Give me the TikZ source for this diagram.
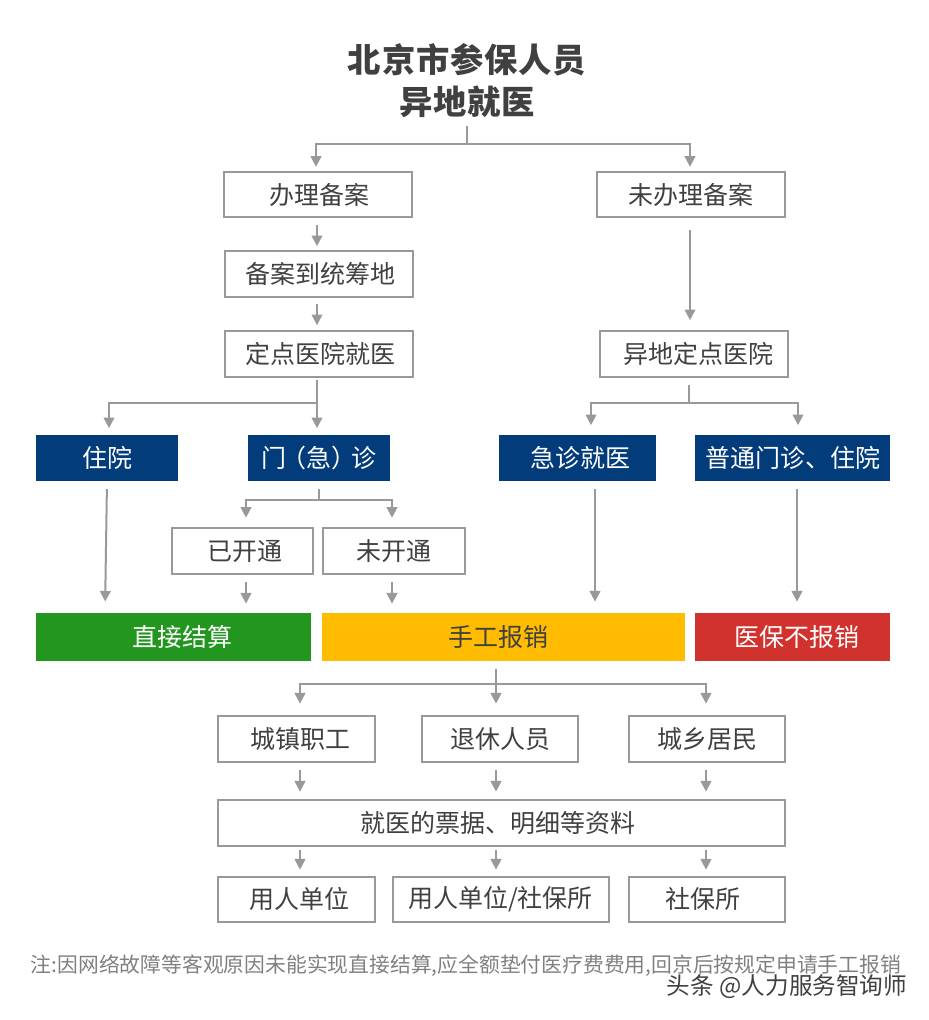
\documentclass[tikz,border=0pt]{standalone}
\usepackage{fontspec}
\setmainfont{Noto Sans CJK SC}
\usetikzlibrary{positioning, arrows.meta}
\definecolor{linegray}{HTML}{999999}
\definecolor{textgray}{HTML}{404040}
\definecolor{notegray}{HTML}{808080}
\definecolor{navyblue}{HTML}{033C7A}
\definecolor{passgreen}{HTML}{23961F}
\definecolor{handamber}{HTML}{FFBC00}
\definecolor{denyred}{HTML}{D2322D}
\tikzset{
	basic node/.style={outer sep=0pt, inner sep=0pt, font=\fontsize{18.75pt}{22pt}\selectfont},
	plain node/.style={basic node, draw=linegray, line width=1.5pt, text=textgray},
	navy node/.style={basic node, fill=navyblue, text=white, minimum height=34.5pt},
	result node/.style={basic node, minimum height=36pt},
	left pad/.style={execute at begin node=\hspace*{#1}},
	right pad/.style={execute at end node=\hspace*{#1}},
	stem/.style={draw=linegray, line width=1.5pt},
	link/.style={stem, -{Triangle[width=8pt, length=8pt]}},
}
\begin{document}
\begin{tikzpicture}[x=0.75pt, y=-0.75pt]
	\useasboundingbox (0,0) rectangle (928,1020);
	% Grids
	\node[basic node, align=center, text=textgray, font=\fontsize{25pt}{31.5pt}\selectfont\bfseries\addfontfeature{LetterSpace=2.5}] (title) at (467,81) {北京市参保人员\\异地就医};
	\node[plain node, left pad=1.5pt, minimum width=141pt, minimum height=34pt] (banli) at (318,194.5) {办理备案};
	\node[plain node, minimum width=141pt, minimum height=34pt] [right = 138.75pt of banli] (weiban) {未办理备案};
	\node[plain node, left pad=2pt, minimum width=141pt, minimum height=34.5pt] [below = 25.5pt of banli, xshift=0.75pt] (daotong) {备案到统筹地};
	\node[plain node, left pad=2pt, minimum width=141pt, minimum height=34.5pt] [below = 25.5pt of daotong] (dingdian) {定点医院就医};
	\node[plain node, left pad=6.75pt, minimum width=141pt, minimum height=34.5pt] [right = 140.25pt of dingdian] (yidi) {异地定点医院};
	\node[navy node, minimum width=106.5pt] [below = 43.5pt of dingdian] (menzhen) {门\hspace{-3.75pt}（急）\hspace{-3.75pt}诊};
	\node[navy node, minimum width=106.5pt] [left = 52.5pt of menzhen] (zhuyuan) {住院};
	\node[navy node, left pad=4.5pt, minimum width=117.75pt] [right = 81.75pt of menzhen] (jizhen) {急诊就医};
	\node[navy node, minimum width=146.25pt] [right = 29.25pt of jizhen] (putong) {普通门诊、住院};
	\node[plain node, left pad=4.5pt, minimum width=105.75pt, minimum height=35pt] [below = 34.9pt of menzhen, xshift=-57.4pt] (yikai) {已开通};
	\node[plain node, minimum width=106.5pt, minimum height=35pt] [right = 7.5pt of yikai] (weikai) {未开通};
	\node[result node, left pad=13.5pt, fill=passgreen, text=white, minimum width=206.25pt] [below = 98.6pt of zhuyuan.south west, anchor=north west] (zhijie) {直接结算};
	\node[result node, right pad=7.5pt, fill=handamber, text=textgray, minimum width=272.25pt] [right = 8.25pt of zhijie] (shougong) {手工报销};
	\node[result node, left pad=6.75pt, fill=denyred, text=white, minimum width=146.25pt] [right = 7.5pt of shougong] (buxiao) {医保不报销};
	\node[plain node, minimum width=117pt, minimum height=34.5pt] [below = 41.25pt of shougong, xshift=-2.6pt] (tuixiu) {退休人员};
	\node[plain node, left pad=5.25pt, minimum width=117.75pt, minimum height=34.5pt] [left = 35.25pt of tuixiu] (chengzhen) {城镇职工};
	\node[plain node, minimum width=117pt, minimum height=34.5pt] [right = 38.25pt of tuixiu] (jumin) {城乡居民};
	\node[plain node, right pad=6pt, minimum width=425.25pt, minimum height=34.5pt] [below = 28.5pt of tuixiu, xshift=1.1pt] (piaoju) {就医的票据、明细等资料};
	\node[plain node, minimum width=162pt, minimum height=33.75pt] [below = 23.25pt of piaoju, xshift=-0.75pt] (danshe) {用人单位/社保所};
	\node[plain node, left pad=4.5pt, minimum width=117.75pt, minimum height=33.75pt] [left = 13.5pt of danshe] (danwei) {用人单位};
	\node[plain node, right pad=6pt, minimum width=117pt, minimum height=33.75pt] [right = 15pt of danshe] (shebao) {社保所};
	\node[basic node, text=notegray, font=\fontsize{15.6pt}{18pt}\selectfont] (note) at (466,966) {注:因网络故障等客观原因未能实现直接结算,应全额垫付医疗费费用,回京后按规定申请手工报销};
	\node[basic node, anchor=east, text=textgray, font=\fontsize{17.7pt}{20pt}\selectfont] (mark) at (907,987) {头条 @人力服务智询师};
	% Columns and splits
	\coordinate (colA) at (317,0);
	\coordinate (colB) at (690,0);
	\coordinate (colC) at (689,0);
	\coordinate (colD) at (319,0);
	\coordinate (colE) at (246,0);
	\coordinate (colF) at (392,0);
	\coordinate (colG) at (107,0);
	\coordinate (colH) at (105,0);
	\coordinate (colI) at (595,0);
	\coordinate (colJ) at (797,0);
	\coordinate (colK) at (300,0);
	\coordinate (colL) at (496,0);
	\coordinate (colM) at (706,0);
	\coordinate (colN) at (109,0);
	\coordinate (colO) at (591,0);
	\coordinate (colP) at (798,0);
	\coordinate (colQ) at (316,0);
	\coordinate (splitA) at (467,144);
	\coordinate (splitB) at (317,403);
	\coordinate (splitC) at (689,403);
	\coordinate (splitD) at (319,500);
	\coordinate (splitE) at (496,684);
	% Paths
	\draw[stem, shorten <=6pt] (title.south) -- (splitA);
	\draw[link, shorten >=3.75pt] (splitA) -| (banli.north -| colQ);
	\draw[link, shorten >=3.75pt] (splitA) -| (weiban.north -| colB);
	\draw[link, shorten <=6pt, shorten >=3.75pt] (banli.south -| colA) -- (daotong.north -| colA);
	\draw[link, shorten <=5.25pt, shorten >=4.5pt] (daotong.south -| colA) -- (dingdian.north -| colA);
	\draw[link, shorten <=9.75pt, shorten >=8.25pt] (weiban.south -| colB) -- (yidi.north -| colB);
	\draw[stem, shorten <=2.25pt] (dingdian.south -| colA) -- (splitB);
	\draw[link, shorten >=5.25pt] (splitB) -- (menzhen.north -| colA);
	\draw[link, shorten >=5.25pt] (splitB) -| (zhuyuan.north -| colN);
	\draw[stem, shorten <=6pt] (yidi.south -| colC) -- (splitC);
	\draw[link, shorten >=7.5pt] (splitC) -| (jizhen.north -| colO);
	\draw[link, shorten >=7.5pt] (splitC) -| (putong.north -| colP);
	\draw[stem, shorten <=6pt] (menzhen.south -| colD) -- (splitD);
	\draw[link, shorten >=7.5pt] (splitD) -| (yikai.north -| colE);
	\draw[link, shorten >=7.5pt] (splitD) -| (weikai.north -| colF);
	\draw[link, shorten <=6pt, shorten >=8.25pt] (zhuyuan.south -| colG) -- (zhijie.north -| colH);
	\draw[link, shorten <=6pt, shorten >=6.75pt] (yikai.south -| colE) -- (zhijie.north -| colE);
	\draw[link, shorten <=6pt, shorten >=6.75pt] (weikai.south -| colF) -- (shougong.north -| colF);
	\draw[link, shorten <=6pt, shorten >=8.25pt] (jizhen.south -| colI) -- (shougong.north -| colI);
	\draw[link, shorten <=6pt, shorten >=8.25pt] (putong.south -| colJ) -- (buxiao.north -| colJ);
	\draw[stem, shorten <=6pt] (shougong.south -| colL) -- (splitE);
	\draw[link, shorten >=9pt] (splitE) -| (chengzhen.north -| colK);
	\draw[link, shorten >=9pt] (splitE) -- (tuixiu.north -| colL);
	\draw[link, shorten >=9pt] (splitE) -| (jumin.north -| colM);
	\draw[link, shorten <=6pt, shorten >=6pt] (chengzhen.south -| colK) -- (piaoju.north -| colK);
	\draw[link, shorten <=6pt, shorten >=6pt] (tuixiu.south -| colL) -- (piaoju.north -| colL);
	\draw[link, shorten <=6pt, shorten >=6pt] (jumin.south -| colM) -- (piaoju.north -| colM);
	\draw[link, shorten <=3pt, shorten >=5.25pt] (piaoju.south -| colK) -- (danwei.north -| colK);
	\draw[link, shorten <=3pt, shorten >=5.25pt] (piaoju.south -| colL) -- (danshe.north -| colL);
	\draw[link, shorten <=3pt, shorten >=5.25pt] (piaoju.south -| colM) -- (shebao.north -| colM);
\end{tikzpicture}
\end{document}
